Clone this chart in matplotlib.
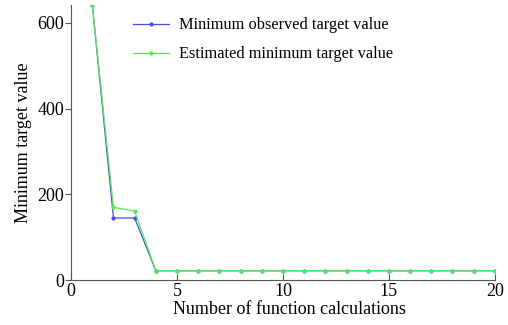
import matplotlib
matplotlib.use("Agg")
import matplotlib.pyplot as plt

plt.rcParams['font.family'] = ['Liberation Serif', 'DejaVu Serif']

calls = list(range(1, 21))
observed_min = [642, 145, 145, 22, 22, 22, 22, 22, 22, 22, 22, 22, 22, 22, 22, 22, 22, 22, 22, 22]
estimated_min = [642, 170, 161, 22, 22, 22, 22, 22, 22, 22, 22, 22, 22, 22, 22, 22, 22, 22, 22, 22]

fig = plt.figure(figsize=(5.08, 3.25), dpi=100)
ax = fig.add_axes([0.140, 0.138, 0.834, 0.847])

ax.plot(calls, observed_min, color='#4a4aee', lw=0.9, marker='.', ms=4,
        label='Minimum observed target value')
ax.plot(calls, estimated_min, color='#4ef04e', lw=0.9, marker='.', ms=4,
        label='Estimated minimum target value')

ax.set_xlim(0, 20)
ax.set_ylim(0, 642)
ax.set_xticks([0, 5, 10, 15, 20])
ax.set_yticks([0, 200, 400, 600])

for side in ('top', 'right'):
    ax.spines[side].set_visible(False)
for side in ('left', 'bottom'):
    ax.spines[side].set_color('#555555')
    ax.spines[side].set_linewidth(0.8)

ax.tick_params(axis='x', direction='in', length=4, color='#555555', labelsize=13, pad=2)
ax.tick_params(axis='y', direction='out', length=4, color='#555555', labelsize=13, pad=1)

ax.set_xlabel('Number of function calculations', fontsize=13, labelpad=0)
ax.xaxis.set_label_coords(0.516, -0.075)
ax.set_ylabel('Minimum target value', fontsize=13, labelpad=4)

ax.legend(loc='upper left', bbox_to_anchor=(0.146, 0.955), frameon=False,
          borderaxespad=0, borderpad=0,
          fontsize=11.8, handlelength=2.2, handletextpad=0.6, labelspacing=0.8)

fig.savefig('out.png', dpi=100)
